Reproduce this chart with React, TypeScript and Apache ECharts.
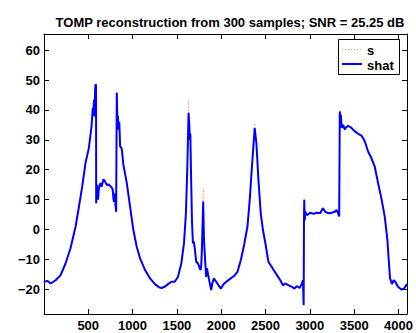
import React, { useEffect, useRef } from "react";
import * as echarts from "echarts";

const sampleIdx = [
  0, 38, 76, 132, 188, 244, 300, 357, 395, 432, 469, 507, 537, 552, 560, 565, 570, 578, 582, 588,
  590, 595, 600, 610, 620, 638, 650, 672, 690, 710, 730, 747, 765, 777, 785, 792, 800, 808, 815, 822,
  826, 830, 835, 840, 850, 860, 878, 897, 935, 972, 1009, 1047, 1085, 1141, 1197, 1253, 1302, 1325, 1362, 1400,
  1437, 1475, 1512, 1550, 1580, 1602, 1617, 1632, 1640, 1647, 1652, 1658, 1670, 1681, 1690, 1700, 1718, 1740, 1767, 1775,
  1782, 1797, 1805, 1812, 1830, 1840, 1850, 1868, 1887, 1900, 1917, 1943, 1970, 1996, 2033, 2089, 2145, 2183, 2221, 2258,
  2296, 2322, 2344, 2363, 2378, 2397, 2420, 2446, 2471, 2502, 2532, 2558, 2592, 2629, 2667, 2697, 2724, 2761, 2798, 2825,
  2854, 2885, 2911, 2922, 2930, 2934, 2937, 2942, 2948, 2967, 3005, 3042, 3080, 3117, 3147, 3174, 3211, 3245, 3282, 3301,
  3320, 3331, 3336, 3338, 3343, 3349, 3360, 3376, 3394, 3405, 3432, 3469, 3507, 3545, 3582, 3620, 3657, 3694, 3732, 3770,
  3807, 3845, 3875, 3890, 3905, 3927, 3945, 3964, 3994, 4032, 4062, 4096,
];

const shatValues = [
  -17.6, -17.2, -18.1, -17.0, -15.3, -11.4, -6.3, 0.9, 7.6, 14.3, 22.2, 27.2, 34.5, 40.6, 40.0, 43.4, 37.8, 47.0, 48.5, 48.3,
  8.8, 14.0, 14.9, 10.0, 13.8, 15.5, 14.3, 16.8, 16.0, 14.9, 15.0, 14.6, 14.0, 13.2, 10.0, 9.3, 12.0, 8.0, 5.9, 45.7,
  40.0, 36.7, 38.0, 33.4, 36.0, 27.8, 27.0, 21.6, 15.5, 7.6, -0.2, -5.8, -9.7, -13.6, -16.4, -18.3, -19.4, -19.6, -19.2, -18.3,
  -17.5, -17.5, -15.9, -11.4, -4.7, 5.4, 19.9, 39.0, 35.0, 30.0, 32.0, 21.0, 3.2, -4.7, -4.0, -5.8, -10.8, -11.5, -13.6, -12.0,
  -6.9, 9.3, -3.0, -6.9, -15.9, -13.0, -14.7, -17.5, -20.3, -18.0, -16.4, -17.5, -18.7, -19.8, -18.1, -16.8, -15.6, -14.2, -10.3, -5.2,
  0.9, 9.9, 19.9, 27.8, 33.9, 28.9, 16.6, 5.4, -0.2, -5.2, -10.8, -12.0, -13.6, -15.3, -17.0, -18.7, -18.1, -18.7, -19.2, -19.8,
  -19.0, -19.6, -18.1, -17.0, -25.4, 3.0, 9.9, 3.0, 5.9, 4.8, 5.6, 5.2, 5.6, 5.4, 7.1, 5.9, 5.4, 5.6, 5.9, 6.5,
  5.4, 4.3, 30.0, 39.5, 36.0, 38.4, 34.0, 35.0, 33.4, 34.0, 34.7, 34.0, 32.8, 32.0, 31.4, 29.5, 26.1, 23.9, 21.0, 15.5,
  10.4, 4.3, -3.6, -10.3, -16.4, -18.3, -17.0, -17.5, -19.2, -20.1, -19.8, -18.3,
];

const sValues = [
  -17.8, -17.4, -18.3, -17.1, -15.2, -11.2, -6.0, 1.2, 7.9, 14.6, 22.4, 27.5, 34.8, 41.0, 40.3, 43.8, 38.2, 47.4, 48.8, 48.6,
  8.6, 14.2, 15.1, 10.2, 14.0, 15.8, 14.5, 17.0, 16.2, 15.1, 15.2, 14.8, 14.2, 13.4, 10.2, 9.1, 12.2, 8.2, 5.7, 46.0,
  40.3, 37.0, 38.3, 33.7, 36.3, 28.1, 27.3, 21.9, 15.8, 7.9, 0.1, -5.5, -9.4, -13.3, -16.1, -18.6, -19.7, -19.9, -19.5, -18.6,
  -17.8, -17.2, -15.6, -11.1, -4.4, 5.7, 20.3, 43.4, 35.5, 30.4, 32.4, 21.4, 3.5, -4.4, -3.7, -5.5, -10.5, -11.2, -13.3, -11.7,
  -6.6, 13.8, -2.7, -6.6, -15.6, -12.7, -14.4, -17.2, -20.0, -17.7, -16.1, -17.2, -18.4, -19.5, -17.8, -16.5, -15.3, -13.9, -10.0, -4.9,
  1.2, 10.2, 20.2, 28.1, 35.6, 29.2, 16.9, 5.7, 0.1, -4.9, -10.5, -11.7, -13.3, -15.0, -16.7, -18.4, -17.8, -18.4, -18.9, -19.5,
  -18.7, -19.3, -17.8, -16.7, -25.1, 3.3, 10.2, 3.3, 6.2, 5.1, 5.9, 5.5, 5.9, 5.7, 7.4, 6.2, 5.7, 5.9, 6.2, 6.8,
  5.7, 4.6, 30.3, 39.8, 36.3, 38.7, 34.3, 35.3, 33.7, 34.3, 35.0, 34.3, 33.1, 32.3, 31.7, 29.8, 26.4, 24.2, 21.3, 15.8,
  10.7, 4.6, -3.3, -10.0, -16.1, -18.0, -16.7, -17.2, -18.9, -19.8, -19.5, -18.0,
];

const xTicks = [500, 1000, 1500, 2000, 2500, 3000, 3500, 4000];
const yTicks = [-20, -10, 0, 10, 20, 30, 40, 50, 60];
const legendNames = ["s", "shat"];
const titleText = "TOMP reconstruction from 300 samples; SNR = 25.25 dB";

const FONT = "'Liberation Sans', Arial, sans-serif";

export default function App() {
  const ref = useRef<HTMLDivElement>(null);
  useEffect(() => {
    if (!ref.current) return;
    const chart = echarts.init(ref.current, null, { renderer: "svg" });
    const shatData = sampleIdx.map((x, i) => [x, shatValues[i]]);
    const sData = sampleIdx.map((x, i) => [x, sValues[i]]);
    const plainFmt = (v: number) => String(v).replace("-", "\u2212");
    const axisLine = { show: true, onZero: false, lineStyle: { color: "#000", width: 1 } };
    const tickStyle = { color: "#000", width: 1 };
    const labelStyle = { color: "#000", fontWeight: "bold" as const, fontSize: 13, fontFamily: FONT };
    chart.setOption({
      animation: false,
      backgroundColor: "#fff",
      title: {
        text: titleText,
        left: 225,
        textAlign: "center",
        top: 11,
        textStyle: { color: "#000", fontSize: 13, fontWeight: "bold", fontFamily: FONT },
      },
      grid: { left: 44, right: 9, top: 34, bottom: 19, containLabel: false },
      xAxis: [
        {
          type: "value",
          min: 1,
          max: 4096,
          position: "bottom",
          axisLine,
          axisTick: { show: true, inside: true, length: 5, customValues: xTicks, lineStyle: tickStyle },
          axisLabel: { show: true, customValues: xTicks, margin: 5, formatter: plainFmt, ...labelStyle },
          splitLine: { show: false },
        },
        {
          type: "value",
          min: 1,
          max: 4096,
          position: "top",
          axisLine,
          axisTick: { show: true, inside: true, length: 5, customValues: xTicks, lineStyle: tickStyle },
          axisLabel: { show: false },
          splitLine: { show: false },
        },
      ],
      yAxis: [
        {
          type: "value",
          min: -28.3,
          max: 65.4,
          position: "left",
          axisLine,
          axisTick: { show: true, inside: true, length: 5, customValues: yTicks, lineStyle: tickStyle },
          axisLabel: { show: true, customValues: yTicks, margin: 4, formatter: plainFmt, ...labelStyle },
          splitLine: { show: false },
        },
        {
          type: "value",
          min: -28.3,
          max: 65.4,
          position: "right",
          axisLine,
          axisTick: { show: true, inside: true, length: 5, customValues: yTicks, lineStyle: tickStyle },
          axisLabel: { show: false },
          splitLine: { show: false },
        },
      ],
      series: [
        {
          name: legendNames[0],
          type: "line",
          data: sData,
          xAxisIndex: 0,
          yAxisIndex: 0,
          showSymbol: false,
          symbol: "none",
          lineStyle: { color: "#ff4040", width: 1, type: [1, 2], opacity: 0.6 },
          z: 2,
        },
        {
          name: legendNames[1],
          type: "line",
          data: shatData,
          xAxisIndex: 0,
          yAxisIndex: 0,
          showSymbol: false,
          symbol: "none",
          lineStyle: { color: "#0000ff", width: 2 },
          z: 3,
        },
      ],
      graphic: [
        {
          type: "rect",
          shape: { x: 338.5, y: 39.5, width: 61, height: 35 },
          style: { fill: "#fff", stroke: "#000", lineWidth: 1 },
          z: 10,
        },
        {
          type: "line",
          shape: { x1: 342, y1: 49.5, x2: 362, y2: 49.5 },
          style: { stroke: "#ff4040", lineWidth: 1, lineDash: [1, 2], opacity: 0.6 },
          z: 11,
        },
        {
          type: "line",
          shape: { x1: 342, y1: 64, x2: 362, y2: 64 },
          style: { stroke: "#0000ff", lineWidth: 2 },
          z: 11,
        },
        {
          type: "text",
          x: 367,
          y: 50,
          style: { text: legendNames[0], fill: "#000", font: `bold 13px ${FONT}`, verticalAlign: "middle" },
          z: 11,
        },
        {
          type: "text",
          x: 367,
          y: 65,
          style: { text: legendNames[1], fill: "#000", font: `bold 13px ${FONT}`, verticalAlign: "middle" },
          z: 11,
        },
      ],
    });
    return () => chart.dispose();
  }, []);
  return (
    <div
      ref={ref}
      style={{ position: "fixed", left: 0, top: 0, width: 416, height: 333, background: "#fff" }}
    />
  );
}
